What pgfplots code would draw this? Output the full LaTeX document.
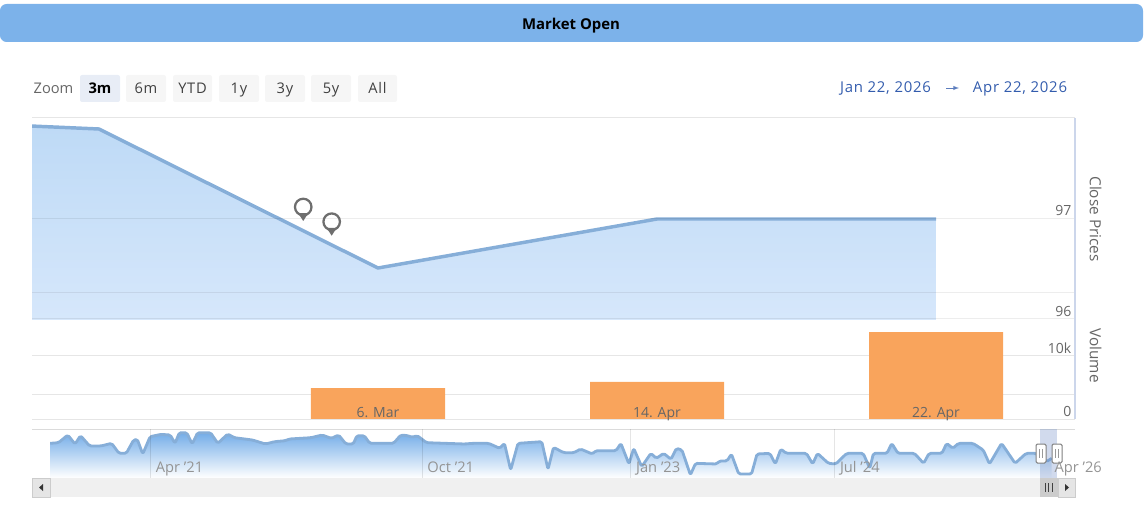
\documentclass[border=0pt]{standalone}
\usepackage{fontspec}
\setmainfont{Open Sans}
\newfontfamily\spaced{Open Sans}[LetterSpace=5]
\usepackage{pgfplots}
\pgfplotsset{compat=1.18}
\usepackage{pgfplotstable}
\definecolor{hdr}{HTML}{7CB2EA}
\definecolor{ln}{HTML}{86AED8}
\definecolor{areaT}{HTML}{BEDAF6}
\definecolor{areaB}{HTML}{D6E7FB}
\definecolor{navT}{HTML}{74ADE8}
\definecolor{orangebar}{HTML}{F9A45C}
\definecolor{txt}{HTML}{666666}
\definecolor{rng}{HTML}{335CAD}
\definecolor{axl}{HTML}{CCD6EB}
\definecolor{gridc}{HTML}{E6E6E6}
\definecolor{pinc}{HTML}{6E6E6E}
\definecolor{maskc}{HTML}{6685C2}
\pgfdeclareplotmark{pin}{%
  \pgfsetlinewidth{1.7pt}\pgfsetstrokecolor{pinc}\pgfsetfillcolor{pinc}%
  \pgfpathcircle{\pgfpointorigin}{6.2pt}\pgfusepathqstroke
  \pgfpathmoveto{\pgfpoint{-3.8pt}{-4.6pt}}\pgfpathlineto{\pgfpoint{3.8pt}{-4.6pt}}\pgfpathlineto{\pgfpoint{0pt}{-10.5pt}}\pgfpathclose\pgfusepathqfill
}
\pgfplotstableread{
x y
0.755 97.93
1 97.90
2 96.51
3 97
4 97
}\pricetable
\pgfplotstableread{
x y
2 4900
3 5900
4 13800
}\voltable
\pgfplotstableread{
x y
137 104
160 106
185 129
205 102
220 127
245 96
275 96
305 104
325 74
345 74
365 114
375 116
390 72
410 124
440 131
465 129
478 104
490 136
510 136
525 102
540 136
575 136
595 104
622 132
640 121
690 114
725 102
750 109
780 112
790 117
850 121
880 129
905 119
925 129
945 102
965 102
975 127
995 127
1010 104
1075 104
1095 129
1115 127
1125 122
1140 127
1165 106
1270 102
1290 104
1335 104
1365 89
1378 104
1395 24
1415 104
1480 109
1497 26
1512 92
1540 76
1568 76
1586 87
1618 72
1628 82
1683 82
1696 104
1718 42
1731 89
1753 34
1778 74
1793 59
1813 74
1833 56
1848 89
1863 84
1886 9
1900 44
1958 42
1965 51
1986 51
1998 72
2018 12
2053 12
2068 72
2103 74
2118 42
2133 87
2148 74
2203 74
2220 42
2233 74
2263 44
2283 42
2313 74
2358 74
2376 29
2386 74
2423 74
2436 104
2453 74
2498 74
2523 44
2538 74
2573 74
2586 104
2603 89
2618 104
2658 104
2686 84
2703 42
2736 104
2773 44
2803 74
2830 74
2858 49
2873 59
}\navtable
\pgfplotsset{
  layers/labelsontop/.define layer set={axis background,axis grid,axis ticks,axis lines,pre main,main,axis tick labels,axis descriptions,axis foreground}{%
    grid style={/pgfplots/on layer=axis grid},
    tick style={/pgfplots/on layer=axis ticks},
    axis line style={/pgfplots/on layer=axis lines},
    label style={/pgfplots/on layer=axis descriptions},
    ticklabel style={/pgfplots/on layer=axis tick labels},
  },
  pane/.style={
    scale only axis, width=782.25pt,
    axis line style={draw=none}, tick style={draw=none},
    major tick length=0pt, clip=true,
    scaled y ticks=false,
    tick label style={font=\fontsize{10.5}{12}\selectfont, text=txt},
    /pgf/number format/assume math mode=true,
  },
}
\begin{document}
\begin{tikzpicture}
\begin{scope}[x=0.75pt,y=-0.75pt]
  \useasboundingbox (0,0) rectangle (1148,505);
  \fill[hdr, rounded corners=5pt] (0,4) rectangle (1143,42);
  \node[anchor=base, font=\fontsize{11.2}{12}\selectfont\bfseries, text=black] at (571,29.5) {Market Open};
  \node[anchor=base, font=\fontsize{11}{12}\selectfont, text=txt] at (53.5,93.5) {Zoom};
  \fill[maskc!15, rounded corners=1.5pt] (80,75) rectangle (120,102);
  \foreach \a/\b in {126/166,173/212,219/259,265/305,311/351,358/397}
    \fill[black!3.5, rounded corners=1.5pt] (\a,75) rectangle (\b,102);
  \node[anchor=base, font=\fontsize{11}{12}\selectfont\bfseries, text=black] at (100,93.5) {3m};
  \foreach \c/\t in {146/6m,192.5/YTD,239/1y,285/3y,331/5y,377.5/All}
    \node[anchor=base, font=\fontsize{11}{12}\selectfont\spaced, text=black!75] at (\c,93.5) {\t};
  \node[anchor=base, font=\fontsize{11.2}{12}\selectfont\spaced, text=rng] at (885.5,93) {Jan 22, 2026};
  \draw[rng!80, line width=0.5pt, -{latex}] (946,88) -- (959,88);
  \node[anchor=base, font=\fontsize{11.2}{12}\selectfont\spaced, text=rng] at (1020,93) {Apr 22, 2026};
\end{scope}

% price pane
\begin{axis}[pane, at={(32*0.75pt,-320*0.75pt)}, anchor=south west,
  height=151.5pt,
  xmin=0.76, xmax=4.498, ymin=95.99, ymax=98.01,
  xtick=\empty, ytick={96,97}, yticklabels={96,97},
  extra y ticks={96.26}, extra y tick labels={},
  ymajorgrids, extra y tick style={grid=major},
  grid style={black, opacity=0.07, line width=0.75pt},
  axis on top,
  yticklabel pos=right,
  yticklabel style={anchor=east, xshift=0.75pt, yshift=6pt},
  ylabel={Close Prices},
  ylabel style={at={(rel axis cs:1,0.5)}, anchor=center, rotate=180, yshift=15.5pt, font=\fontsize{11.5}{12}\selectfont, text=txt},
]
  \addplot[draw=none, top color=areaT, bottom color=areaB] table[x=x,y=y] {\pricetable} \closedcycle;
  \addplot[ln, line width=2.6pt, line join=round] table[x=x,y=y] {\pricetable};
  \addplot[only marks, mark=pin] coordinates {(1.732,97.12) (1.834,96.973)};
\end{axis}

% volume pane
\begin{axis}[pane, at={(32*0.75pt,-419*0.75pt)}, anchor=south west,
  set layers=labelsontop,
  height=74.25pt,
  xmin=0.76, xmax=4.498, ymin=0, ymax=15714,
  xtick={2,3,4}, xticklabels={6. Mar,14. Apr,22. Apr},
  xticklabel style={anchor=base, yshift=1.5pt},
  ytick={0,10000}, yticklabels={0,10k},
  extra y ticks={3810}, extra y tick labels={},
  ymajorgrids, extra y tick style={grid=major},
  grid style={gridc, line width=0.75pt},
  yticklabel pos=right,
  yticklabel style={anchor=east, xshift=0.75pt, yshift=6pt},
  ylabel={Volume},
  ylabel style={at={(rel axis cs:1,0.64)}, anchor=center, rotate=180, yshift=15.5pt, font=\fontsize{11.5}{12}\selectfont, text=txt},
]
  \addplot[ybar, bar width=100.5pt, fill=orangebar, draw=none] table[x=x,y=y] {\voltable};
\end{axis}

% navigator
\begin{axis}[pane, at={(32*0.75pt,-478*0.75pt)}, anchor=south west,
  set layers=labelsontop,
  height=36.75pt,
  xmin=87.4, xmax=2936.6, ymin=0, ymax=147,
  xtick={411,1153,1723,2280,2866},
  xticklabels={Apr '21,Oct '21,Jan '23,Jul '24,Apr '26},
  xticklabel style={anchor=base west, xshift=0.5pt, yshift=4.5pt, font=\fontsize{11}{12}\selectfont, text=black!42},
  ytick=\empty,
  extra x ticks={411,1153,1723,2280}, extra x tick labels={},
  extra x tick style={grid=major, major grid style={/pgfplots/on layer=axis foreground, black, opacity=0.1, line width=0.75pt}},
  clip=false,
]
  \addplot[draw=none, top color=navT, bottom color=white] table[x=x,y=y] {\navtable} \closedcycle;
  \addplot[ln, line width=2.1pt, line join=round, rounded corners=1.2pt] table[x=x,y=y] {\navtable};
\end{axis}

\begin{scope}[x=0.75pt,y=-0.75pt]
  % frame lines
  \draw[gridc, line width=0.75pt] (32,118) -- (1075,118);
  \draw[gridc, line width=0.75pt] (32,419) -- (1075,419);
  \draw[black!14, line width=0.75pt] (32,429) -- (1075,429);
  \draw[axl, line width=1.5pt] (1075,118) -- (1075,419);
  % scrollbar
  \fill[black!6] (32,478) rectangle (1075,497);
  \fill[black!10] (32,478) rectangle (50,497);
  \draw[black!20, line width=0.5pt] (32,478) rectangle (50,497);
  \fill[black!10] (1058,478) rectangle (1075,497);
  \draw[black!20, line width=0.5pt] (1058,478) rectangle (1075,497);
  \fill[black!80] (43,484) -- (43,491) -- (39,487.5) -- cycle;
  \fill[black!80] (1065,484) -- (1065,491) -- (1069,487.5) -- cycle;
  \fill[black!20] (1040,478) rectangle (1058,497);
  \foreach \x in {1045,1048.5,1052} \draw[black!75, line width=0.75pt] (\x,483) -- (\x,492);
  % selection mask and handles
  \fill[maskc, opacity=0.3] (1040,429) rectangle (1057,478);
  \foreach \x in {1041,1057} {
    \fill[white, rounded corners=1pt] (\x-5,444) rectangle (\x+5,463);
    \draw[black!50, line width=0.75pt, rounded corners=1pt] (\x-5,444) rectangle (\x+5,463);
    \draw[black!40, line width=0.6pt] (\x-1.5,449) -- (\x-1.5,458) (\x+1.5,449) -- (\x+1.5,458);
  }
\end{scope}
\end{tikzpicture}
\end{document}
